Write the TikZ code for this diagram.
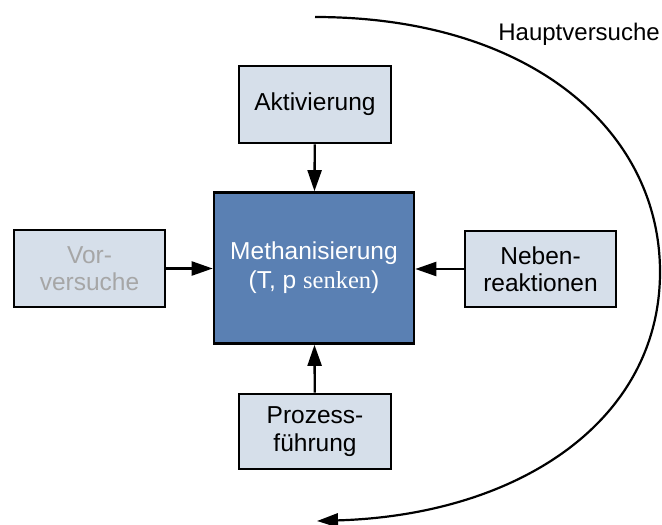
\documentclass[tikz,border=0pt]{standalone}
\usepackage{fontspec}
\setmainfont{Liberation Sans}
\newfontfamily\serifx{Liberation Serif}
\usetikzlibrary{arrows.meta}
\definecolor{boxfill}{HTML}{D6DFEA}
\definecolor{mainfill}{HTML}{5A80B3}
\definecolor{greytext}{HTML}{A6A6A6}
\tikzset{
  sidebox/.style={draw=black, line width=2.6pt, fill=boxfill, align=center,
    inner sep=0pt, font=\fontsize{24.5}{27.5}\selectfont},
  mainbox/.style={draw=black, line width=2.6pt, fill=mainfill, align=center,
    inner sep=0pt, text=white, font=\fontsize{24.5}{29}\selectfont},
  conn/.style={line width=2.3pt, -{Triangle[length=21pt,width=14pt]}},
}
\begin{document}
\begin{tikzpicture}[x=1pt,y={(0pt,-1pt)}]
\useasboundingbox (0,0) rectangle (662,525);
\node[mainbox, minimum width=200pt, minimum height=151pt] (main) at (314,268) {Methanisierung\\(T, p {\serifx senken})};
\node[sidebox, minimum width=152pt, minimum height=77pt] (akt) at (315,104.5) {Aktivierung};
\node[sidebox, minimum width=151pt, minimum height=77pt, text=greytext] (vor) at (89.5,268.5) {Vor-\\versuche};
\node[sidebox, minimum width=151pt, minimum height=76pt] (neb) at (540.5,269) {Neben-\\reaktionen};
\node[sidebox, minimum width=152pt, minimum height=75pt] (pro) at (315,431.5) {Prozess-\\führung};
\draw[conn] (akt) -- (main);
\draw[conn] (vor) -- (vor -| main.west);
\draw[conn] (neb) -- (neb -| main.east);
\draw[conn] (pro) -- (main);
\node[font=\fontsize{24}{28}\selectfont, anchor=base east, inner sep=0pt] (hv) at (660,40) {Hauptversuche};
\coordinate (s) at (315,17);
\coordinate (r) at (660,272);
\coordinate (e) at (317,521);
\draw[line width=2.2pt, -{Triangle[length=21pt,width=14pt]}] (s) .. controls (530,17) and (660,130) .. (r) .. controls (660,420) and (520,515) .. (e);
\end{tikzpicture}
\end{document}
